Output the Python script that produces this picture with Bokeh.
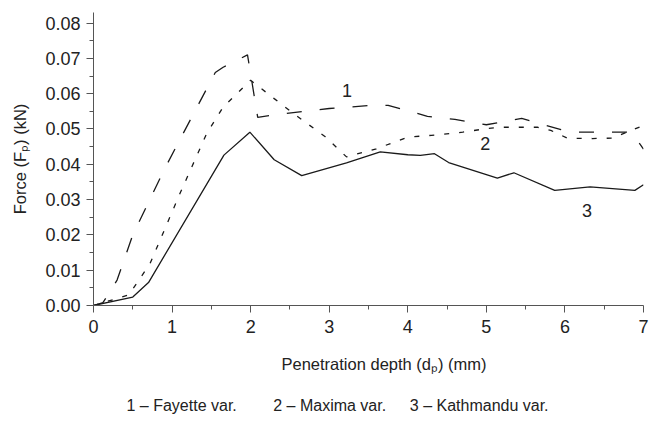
from bokeh.plotting import figure
from bokeh.models import Range1d, FixedTicker, NumeralTickFormatter, Title, ColumnDataSource
from bokeh.core.properties import value
from bokeh.embed import file_html
from bokeh.resources import INLINE

# ---- data ----
x_fayette = [0, 0.12, 0.3, 0.5, 0.9, 1.1, 1.55, 1.65, 1.96, 2.09, 2.4, 3.0, 3.55, 3.75, 4.25, 4.6, 5.0, 5.45, 5.95, 6.15, 6.85, 7.0]
y_fayette = [0, 0.0008, 0.0072, 0.020, 0.0385, 0.047, 0.066, 0.0675, 0.0710, 0.0533, 0.0543, 0.0558, 0.0567, 0.0567, 0.0536, 0.0527, 0.0512, 0.0530, 0.0498, 0.0491, 0.0491, 0.0443]

x_maxima = [0, 0.45, 0.72, 1.1, 1.44, 1.65, 2.0, 2.3, 2.55, 2.95, 3.22, 3.6, 4.0, 4.3, 4.7, 5.0, 5.2, 5.65, 5.82, 6.03, 6.35, 6.6, 7.0]
y_maxima = [0, 0.003, 0.0119, 0.0317, 0.0487, 0.0562, 0.0638, 0.0586, 0.0543, 0.0478, 0.0421, 0.0444, 0.0477, 0.0482, 0.0491, 0.0501, 0.0505, 0.0505, 0.0496, 0.0474, 0.0473, 0.0474, 0.0510]

x_kathmandu = [0, 0.5, 0.7, 1.66, 1.99, 2.3, 2.65, 3.22, 3.65, 4.0, 4.16, 4.34, 4.52, 5.14, 5.35, 5.87, 6.32, 6.89, 7.0]
y_kathmandu = [0, 0.0024, 0.0065, 0.0426, 0.0491, 0.0413, 0.0368, 0.0404, 0.0435, 0.0427, 0.0425, 0.0430, 0.0405, 0.0361, 0.0376, 0.0326, 0.0336, 0.0326, 0.0342]

curve_labels = ["1", "2", "3"]
curve_label_x = [3.225, 4.985, 6.28]
curve_label_y = [0.0609, 0.0459, 0.0270]

x_ticks = [0, 1, 2, 3, 4, 5, 6, 7]
x_minor = [0.5, 1.5, 2.5, 3.5, 4.5, 5.5, 6.5]
y_ticks = [0.0, 0.01, 0.02, 0.03, 0.04, 0.05, 0.06, 0.07, 0.08]
y_minor = [0.005, 0.015, 0.025, 0.035, 0.045, 0.055, 0.065, 0.075]

x_title = "Penetration depth (d\u209a) (mm)"
y_title = "Force (F\u209a) (kN)"
legend_text = "1 \u2013 Fayette var.\u2003\u2003 2 \u2013 Maxima var.\u2003\u2009 3 \u2013 Kathmandu var."

FONT = "Liberation Sans"
INK = "#1a1a1a"
TXT = "#222222"
AXIS = "#555555"

p = figure(width=651, height=420, output_backend="svg", toolbar_location=None,
           x_range=Range1d(0, 7), y_range=Range1d(0, 0.083),
           min_border_left=93, min_border_right=8, min_border_top=12, min_border_bottom=115)
p.outline_line_color = None
p.grid.visible = False
p.background_fill_color = "white"
p.border_fill_color = "white"

p.line(x_fayette, y_fayette, line_color=INK, line_width=1.3, line_dash="15 18")
p.line(x_maxima, y_maxima, line_color=INK, line_width=1.3, line_dash="5 10")
p.line(x_kathmandu, y_kathmandu, line_color=INK, line_width=1.3)

src = ColumnDataSource(dict(x=curve_label_x, y=curve_label_y, t=curve_labels))
p.text("x", "y", text="t", source=src, text_font=value(FONT), text_font_size="18px",
       text_color=TXT, text_align="center", text_baseline="middle")

for ax in (p.xaxis[0], p.yaxis[0]):
    ax.axis_line_color = AXIS
    ax.major_tick_line_color = AXIS
    ax.minor_tick_line_color = AXIS
    ax.major_tick_out = 7
    ax.major_tick_in = 0
    ax.minor_tick_out = 4
    ax.minor_tick_in = 0
    ax.major_label_text_font = FONT
    ax.major_label_text_font_size = "18px"
    ax.major_label_text_color = TXT
    ax.axis_label_text_font = FONT
    ax.axis_label_text_font_size = "16.5px"
    ax.axis_label_text_font_style = "normal"
    ax.axis_label_text_color = TXT

p.xaxis[0].ticker = FixedTicker(ticks=x_ticks, minor_ticks=x_minor)
p.yaxis[0].ticker = FixedTicker(ticks=y_ticks, minor_ticks=y_minor)
p.yaxis[0].formatter = NumeralTickFormatter(format="0.00")
p.xaxis[0].major_label_standoff = 7
p.yaxis[0].major_label_standoff = 6
p.yaxis[0].axis_label = y_title
p.yaxis[0].axis_label_standoff = 13

xlab = Title(text=x_title, align="left", offset=188, vertical_align="top", standoff=39,
             text_font=FONT, text_font_size="16.5px", text_font_style="normal", text_color=TXT)
p.add_layout(xlab, "below")

leg = Title(text=legend_text, align="left", offset=33, vertical_align="bottom", standoff=0,
            text_font=FONT, text_font_size="16px", text_font_style="normal", text_color=TXT)
p.add_layout(leg, "below")

open("out.html", "w").write(file_html(p, INLINE))
